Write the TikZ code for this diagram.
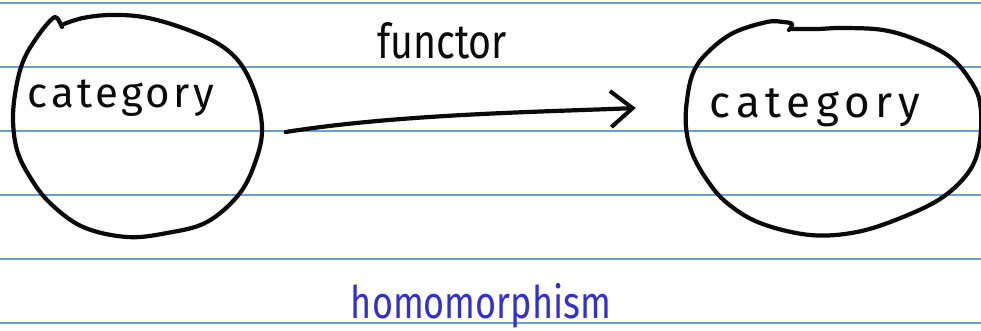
\documentclass[tikz,border=0pt]{standalone}
\usepackage{fontspec}
\setmainfont{Fira Sans}
\usetikzlibrary{shapes.geometric,arrows.meta}
\definecolor{rule}{RGB}{100,160,230}
\definecolor{ink}{RGB}{10,10,10}
\definecolor{blueink}{RGB}{50,50,200}
\tikzset{
  ruleline/.style={draw=rule,line width=1.6pt},
  blobarea/.style={ellipse,draw=none,inner sep=0pt},
  stroke/.style={draw=ink,line width=4.2pt,line cap=round,line join=round},
  hand/.style={text=ink,anchor=base,inner sep=0pt,font=\fontsize{42}{50}\selectfont},
  morph/.style={stroke,-{Straight Barb[length=22pt,width=36pt,line width=4pt]}}
}
\begin{document}
\begin{tikzpicture}[x=1pt,y=-1pt]
\useasboundingbox (0,0) rectangle (981,331);
\fill[white] (0,0) rectangle (981,331);
\foreach \yy in {3,67,131,195,259,323} {\draw[ruleline] (0,\yy) -- (981,\yy);}
% category regions (named), outlines drawn freehand
\node[blobarea,minimum width=249pt,minimum height=222pt] (cL) at (137,126) {};
\node[blobarea,minimum width=296pt,minimum height=214pt] (cR) at (833,128) {};
\draw[stroke] plot[smooth,tension=0.6] coordinates {
  (62,27) (57,18) (52,19) (40,33) (25,57) (17,83) (13,117) (17,150) (30,177) (50,203)
  (83,227) (127,237) (167,233) (207,222) (240,193) (257,157) (262,127) (255,93)
  (240,63) (217,43) (180,27) (143,17) (110,15) (83,18) (64,24)};
\draw[stroke] plot[smooth,tension=0.6] coordinates {
  (789,30) (792,24) (783,22) (767,22) (733,33) (707,53) (693,73) (687,100) (686,127)
  (692,153) (707,180) (727,203) (760,223) (810,235) (857,232) (903,217) (943,197)
  (970,170) (980,140) (980,103) (970,80) (950,57) (917,40) (883,30) (843,28) (817,29) (792,29)};
\node[hand,font=\fontsize{42}{50}\selectfont\addfontfeature{LetterSpace=8}] (tL) at (121,108) {category};
\node[hand,font=\fontsize{44}{50}\selectfont\addfontfeature{LetterSpace=13}] (tR) at (815,118) {category};
\draw[morph] ([shift={(24,6)}]cL.east) .. controls (400,114) and (540,112) .. ([shift={(-49,-20)}]cR.west);
\node[hand,font=\fontsize{48}{50}\selectfont,xscale=0.82] (fn) at (442,59) {functor};
\node[hand,text=blueink,font=\fontsize{45}{50}\selectfont,xscale=0.8] (hm) at (481,318) {homomorphism};
\end{tikzpicture}
\end{document}
